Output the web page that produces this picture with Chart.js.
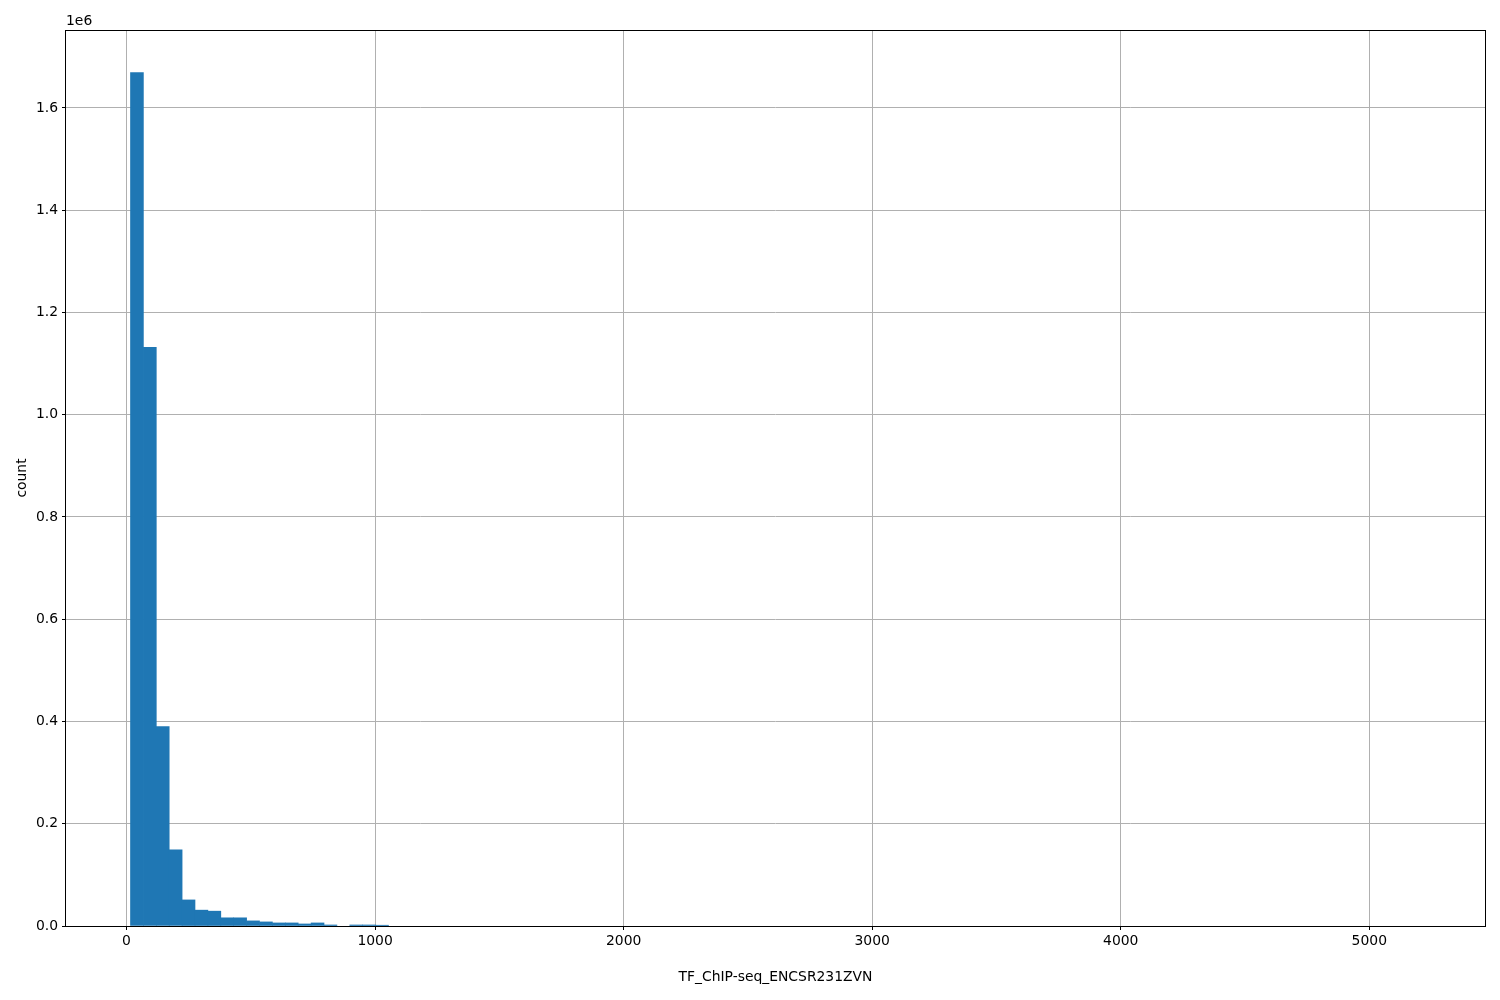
<!DOCTYPE html>
<html>
<head>
<meta charset="utf-8">
<script src="https://cdn.jsdelivr.net/npm/chart.js@4/dist/chart.umd.min.js"></script>
<style>
  html, body { margin: 0; padding: 0; background: #fff; }
  #wrap { width: 1500px; height: 1000px; }
</style>
</head>
<body>
<div id="wrap"><canvas id="c" width="1500" height="1000"></canvas></div>
<script>
// ---- data ----
const binStart = 16;
const binWidth = 51.9;
const counts = [
  1669000, 1132000, 390000, 149000, 51000, 31000, 29000, 16000, 16000, 10000,
  8000, 6000, 6000, 4000, 6000, 2000, 0, 2000, 2000, 1500,
  0, 0, 0, 0, 0, 0, 0, 0, 0, 0,
  0, 0, 0, 0, 0, 0, 0, 0, 0, 0,
  0, 0, 0, 0, 0, 0, 0, 0, 0, 0,
  0, 0, 0, 0, 0, 0, 0, 0, 0, 0,
  0, 0, 0, 0, 0, 0, 0, 0, 0, 0,
  0, 0, 0, 0, 0, 0, 0, 0, 0, 0,
  0, 0, 0, 0, 0, 0, 0, 0, 0, 0,
  0, 0, 0, 0, 0, 0, 0, 0, 0, 0
];
const xTicks = [0, 1000, 2000, 3000, 4000, 5000];
const yTicks = [0, 200000, 400000, 600000, 800000, 1000000, 1200000, 1400000, 1600000];
const xLabel = 'TF_ChIP-seq_ENCSR231ZVN';
const yLabel = 'count';
const yExponentLabel = '1e6';

const binEnd = binStart + counts.length * binWidth;
const span = binEnd - binStart;
const xMin = binStart - 0.05 * span;
const xMax = binEnd + 0.05 * span;
const yMax = Math.max(...counts) * 1.05;

// empty bins are left out (null) so no sliver is drawn for them
const points = counts.map((c, i) => ({ x: binStart + (i + 0.5) * binWidth, y: c > 0 ? c : null }));

const FONT = 'DejaVu Sans';
Chart.defaults.font.family = FONT;
Chart.defaults.color = '#000';

const framePlugin = {
  id: 'frame',
  afterDraw(chart) {
    const { ctx, chartArea: a } = chart;
    ctx.save();
    ctx.strokeStyle = '#000';
    ctx.lineWidth = 1;
    ctx.strokeRect(Math.round(a.left) - 0.5, Math.round(a.top) + 0.5, Math.round(a.right - a.left) + 1, Math.round(a.bottom - a.top));
    ctx.fillStyle = '#000';
    ctx.font = '13.9px "' + FONT + '"';
    ctx.textAlign = 'left';
    ctx.textBaseline = 'bottom';
    ctx.fillText(yExponentLabel, a.left, a.top - 2);
    ctx.restore();
  }
};

new Chart(document.getElementById('c'), {
  type: 'bar',
  data: {
    datasets: [{
      data: points,
      backgroundColor: '#1f77b4',
      borderWidth: 0,
      barPercentage: 1,
      categoryPercentage: 1,
      grouped: false
    }]
  },
  options: {
    responsive: false,
    animation: false,
    events: [],
    layout: { padding: { top: 30, right: 15, left: 0, bottom: 0 } },
    plugins: { legend: { display: false }, tooltip: { enabled: false } },
    scales: {
      x: {
        type: 'linear',
        min: xMin,
        max: xMax,
        offset: false,
        z: 1,
        afterBuildTicks(scale) { scale.ticks = xTicks.map(v => ({ value: v })); },
        afterFit(scale) { scale.height = 74; },
        grid: { color: '#b0b0b0', lineWidth: 1, offset: false, tickColor: '#000', tickLength: 4, drawTicks: true },
        border: { display: false },
        ticks: { maxRotation: 0, autoSkip: false, padding: 3, font: { size: 13.9 }, color: '#000', callback: v => String(v) },
        title: { display: true, text: xLabel, font: { size: 13.9 }, color: '#000', padding: { top: 0, bottom: 14 } }
      },
      y: {
        type: 'linear',
        min: 0,
        max: yMax,
        z: 1,
        afterBuildTicks(scale) { scale.ticks = yTicks.map(v => ({ value: v })); },
        afterFit(scale) { scale.width = 66; },
        grid: { color: '#b0b0b0', lineWidth: 1, offset: false, tickColor: '#000', tickLength: 4, drawTicks: true },
        border: { display: false },
        ticks: { autoSkip: false, padding: 4, font: { size: 13.9 }, color: '#000', callback: v => (v / 1e6).toFixed(1) },
        title: { display: true, text: yLabel, font: { size: 13.9 }, color: '#000', padding: { top: 14, bottom: 0 } }
      }
    }
  },
  plugins: [framePlugin]
});
</script>
</body>
</html>
